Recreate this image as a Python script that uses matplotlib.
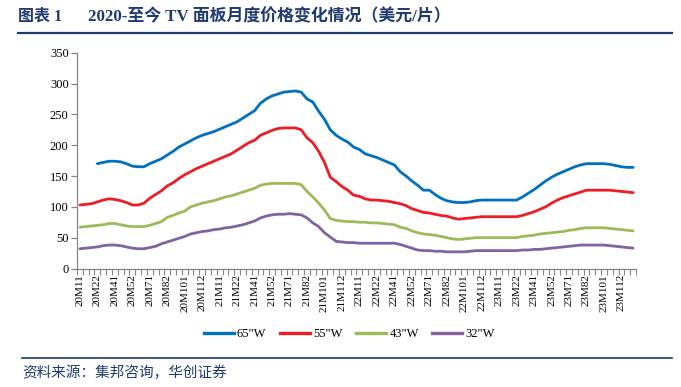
import matplotlib
matplotlib.use("Agg")
import matplotlib.pyplot as plt
import numpy as np
from matplotlib.lines import Line2D

# categories: half-month periods 2020M1-1 .. 2023M12-2
years = [20, 21, 22, 23]
categories = [f"{y}M{m}{h}" for y in years for m in range(1, 13) for h in (1, 2)]

tv65 = [None, None, None,
        170, 172, 174, 174, 173, 170, 166, 165, 165, 170, 174, 178, 184, 190, 197, 202, 207,
        212, 216, 219, 222, 226, 230, 234, 238, 244, 250, 256, 268, 275, 280, 283, 286, 287,
        288, 286, 275, 270, 255, 242, 225, 216, 210, 205, 197, 193, 186, 183, 180, 176, 172,
        168, 157, 150, 142, 135, 127, 127, 120, 114, 110, 108, 107, 107, 108, 110, 111, 111,
        111, 111, 111, 111, 111, 116, 122, 128, 135, 142, 148, 153, 157, 161, 165, 168, 170,
        170, 170, 170, 169, 167, 165, 164, 164]
tv55 = [103, 104, 105, 108, 111, 113, 112, 110, 107, 103, 103, 106, 114, 120, 126, 134, 139,
        146, 152, 157, 162, 166, 170, 174, 178, 182, 186, 192, 198, 204, 208, 216, 220, 224,
        227, 228, 228, 228, 225, 212, 204, 190, 172, 148, 141, 133, 127, 119, 117, 113, 111,
        111, 110, 109, 107, 105, 102, 97, 94, 91, 90, 88, 86, 85, 82, 80, 81, 82, 83, 84, 84,
        84, 84, 84, 84, 84, 86, 89, 92, 96, 100, 106, 111, 115, 118, 121, 124, 127, 127, 127,
        127, 127, 126, 125, 124, 123]
tv43 = [67, 68, 69, 70, 71, 73, 73, 71, 69, 68, 68, 68, 70, 73, 76, 83, 86, 90, 93, 100, 103,
        106, 108, 110, 113, 116, 118, 121, 124, 127, 130, 135, 137, 138, 138, 138, 138, 138,
        136, 125, 116, 106, 95, 81, 78, 77, 76, 76, 75, 75, 74, 74, 73, 72, 71, 67, 65, 61, 58,
        56, 55, 54, 52, 50, 48, 47, 48, 49, 50, 50, 50, 50, 50, 50, 50, 50, 52, 53, 54, 56, 57,
        58, 59, 60, 62, 63, 65, 66, 66, 66, 66, 65, 64, 63, 62, 61]
tv32 = [32, 33, 34, 35, 37, 38, 38, 37, 35, 33, 32, 32, 34, 36, 40, 43, 46, 49, 52, 56, 58,
        60, 61, 63, 64, 66, 67, 69, 71, 74, 77, 82, 85, 87, 88, 88, 89, 88, 87, 82, 74, 68, 58,
        51, 44, 43, 42, 42, 41, 41, 41, 41, 41, 41, 41, 39, 36, 33, 30, 29, 29, 28, 28, 27, 27,
        27, 27, 28, 29, 29, 29, 29, 29, 29, 29, 29, 30, 30, 31, 31, 32, 33, 34, 35, 36, 37, 38,
        38, 38, 38, 38, 37, 36, 35, 34, 33]

series_names = ['65"W', '55"W', '43"W', '32"W']
series = [tv65, tv55, tv43, tv32]
colors = ["#0070C0", "#EE1C25", "#9BBB59", "#8064A2"]

serif = ["Liberation Serif", "Noto Sans CJK SC", "DejaVu Sans"]
cjk = ["Noto Sans CJK SC", "DejaVu Sans"]
navy = "#1F3A6E"

fig = plt.figure(figsize=(6.81, 3.87), dpi=100)
ax = fig.add_axes([77 / 681, 1 - 268.5 / 387, (636 - 77) / 681, (268.5 - 52.7) / 387])

x = np.arange(len(categories))
for name, vals, c in zip(series_names, series, colors):
    y = np.array([np.nan if v is None else v for v in vals], dtype=float)
    ax.plot(x, y, color=c, lw=2.0, label=name, solid_capstyle="round")

ax.set_xlim(-0.5, len(categories) - 0.5)
ax.set_ylim(0, 350)
ax.set_yticks(np.arange(0, 351, 50))
for s in ["top", "right"]:
    ax.spines[s].set_visible(False)
for s in ["left", "bottom"]:
    ax.spines[s].set_color("#868686")
    ax.spines[s].set_linewidth(0.9)

ax.tick_params(axis="y", direction="out", length=4, width=0.9, color="#868686",
               labelsize=9, pad=2)
for lab in ax.get_yticklabels():
    lab.set_family(serif)

label_pos = x[::3]
ax.set_xticks(label_pos)
ax.set_xticklabels([categories[i] for i in label_pos], rotation=90, fontsize=8,
                   family=serif)
ax.tick_params(axis="x", which="major", length=0, pad=4)
ax.set_xticks(np.arange(-0.5, len(categories), 1), minor=True)
ax.tick_params(axis="x", which="minor", direction="out", length=4, width=0.8,
               color="#868686")

handles = [Line2D([0], [0], color=c, lw=2.4) for c in colors]
fig.legend(handles, series_names, loc="center", bbox_to_anchor=(0.513, 1 - 334 / 387),
           ncol=4, frameon=False, prop={"family": serif, "size": 9},
           handlelength=2.4, handletextpad=0.25, columnspacing=1.1)

# title and decorations
fig.text(18 / 681, 1 - 17 / 387, "图表 1",
         family=serif, fontsize=11.5, fontweight="bold", color=navy, va="center", ha="left")
fig.text(88 / 681, 1 - 17 / 387, "2020-至今 TV 面板月度价格变化情况（美元/片）",
         family=serif, fontsize=12.2, fontweight="bold", color=navy, va="center", ha="left")
fig.add_artist(Line2D([18 / 681, 672 / 681], [1 - 33 / 387] * 2, color=navy, lw=1.6))
fig.add_artist(Line2D([22 / 681, 672 / 681], [1 - 358 / 387] * 2, color=navy, lw=1.2))
fig.text(22 / 681, 1 - 373 / 387, "资料来源：集邦咨询，华创证券", family=cjk, fontsize=10.5,
         color=navy, va="center", ha="left", style="italic")

fig.savefig("out.png", dpi=100)
